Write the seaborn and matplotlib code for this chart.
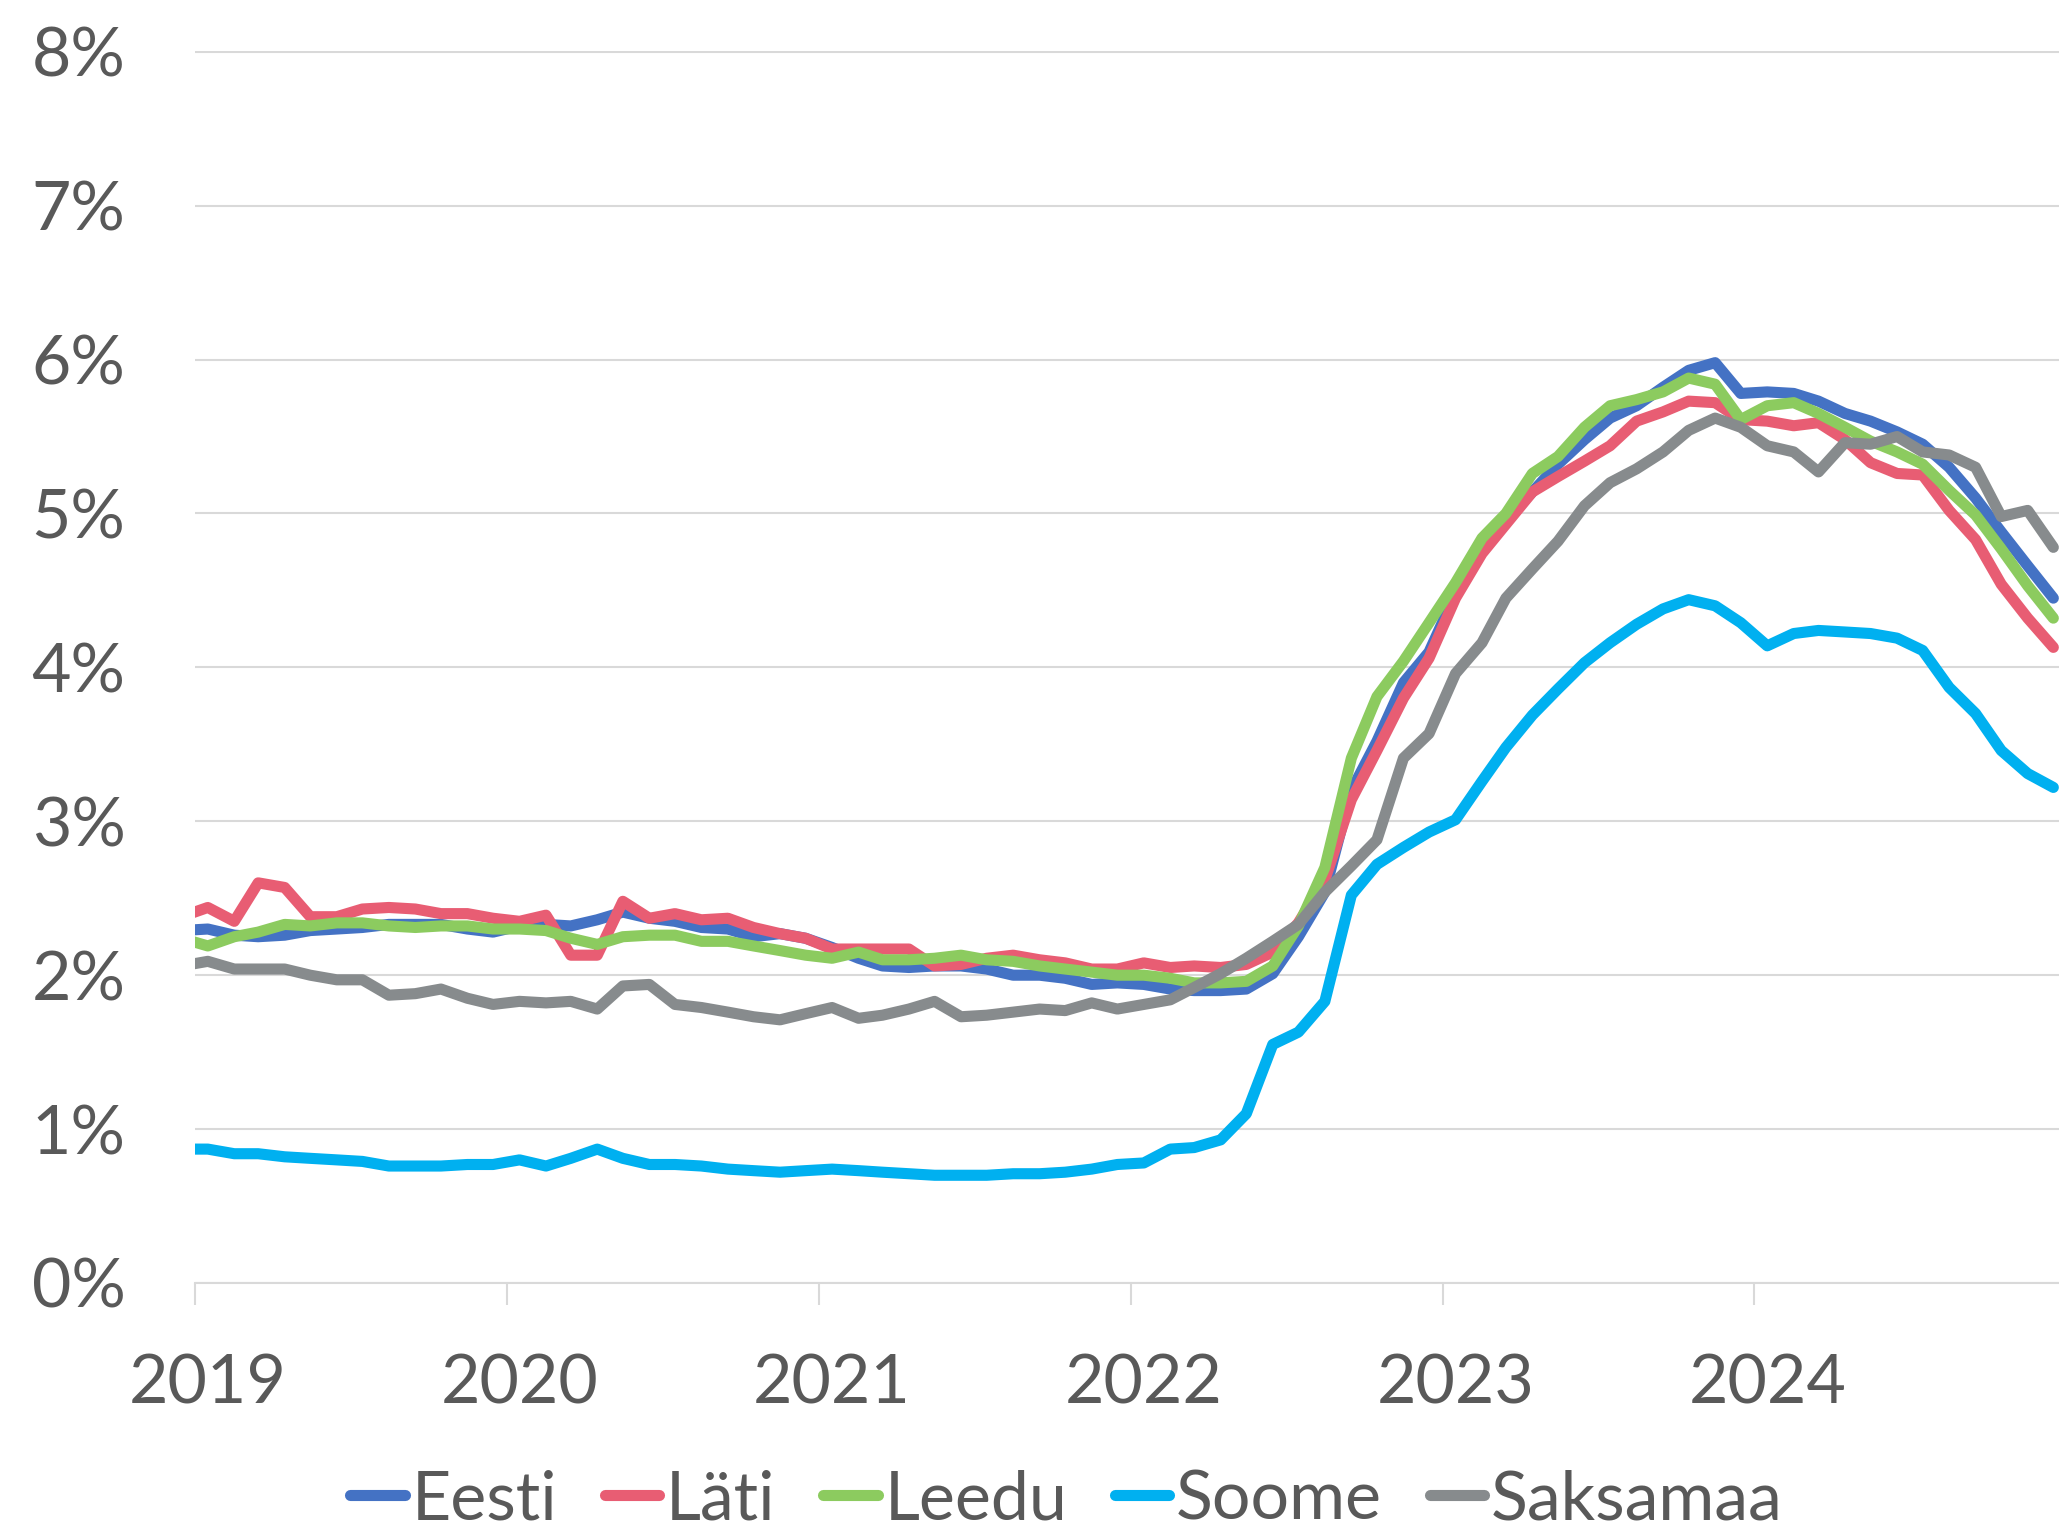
import matplotlib
matplotlib.use("Agg")
import matplotlib.pyplot as plt
import matplotlib.dates as mdates
from matplotlib.ticker import FuncFormatter, NullFormatter, FixedLocator
import numpy as np
import pandas as pd
import seaborn as sns

# monthly values, Dec 2018 .. Dec 2024 (Dec 2018 sits left of the axis and is clipped)
months = pd.date_range("2018-12-01", "2024-12-01", freq="MS") + pd.Timedelta(days=15)

eesti = [2.29, 2.30, 2.26, 2.25, 2.26, 2.29, 2.30, 2.31, 2.33, 2.33, 2.33, 2.30, 2.28,
         2.32, 2.33, 2.32, 2.36, 2.41, 2.37, 2.35, 2.31, 2.30, 2.25, 2.27, 2.24,
         2.18, 2.11, 2.06, 2.05, 2.06, 2.06, 2.04, 2.00, 2.00, 1.98, 1.94, 1.95,
         1.94, 1.91, 1.90, 1.90, 1.91, 2.01, 2.25, 2.54, 3.20, 3.52, 3.90, 4.10,
         4.48, 4.77, 4.96, 5.14, 5.32, 5.48, 5.62, 5.70, 5.82, 5.93, 5.98, 5.78,
         5.79, 5.78, 5.73, 5.65, 5.60, 5.53, 5.45, 5.30, 5.10, 4.88, 4.66, 4.45]
lati = [2.38, 2.44, 2.35, 2.60, 2.57, 2.38, 2.38, 2.43, 2.44, 2.43, 2.40, 2.40, 2.37,
        2.35, 2.39, 2.13, 2.13, 2.48, 2.37, 2.40, 2.36, 2.37, 2.31, 2.27, 2.24,
        2.17, 2.17, 2.17, 2.17, 2.06, 2.07, 2.11, 2.13, 2.10, 2.08, 2.04, 2.04,
        2.08, 2.05, 2.06, 2.05, 2.07, 2.15, 2.34, 2.62, 3.14, 3.46, 3.80, 4.06,
        4.45, 4.74, 4.93, 5.14, 5.24, 5.34, 5.44, 5.60, 5.66, 5.73, 5.72, 5.61,
        5.60, 5.57, 5.59, 5.48, 5.33, 5.26, 5.25, 5.02, 4.83, 4.54, 4.32, 4.13]
leedu = [2.24, 2.19, 2.25, 2.28, 2.33, 2.32, 2.34, 2.34, 2.32, 2.31, 2.32, 2.32, 2.30,
         2.30, 2.29, 2.24, 2.20, 2.25, 2.26, 2.26, 2.22, 2.22, 2.19, 2.16, 2.13,
         2.11, 2.15, 2.10, 2.10, 2.11, 2.13, 2.10, 2.09, 2.06, 2.04, 2.02, 2.00,
         2.00, 1.98, 1.95, 1.95, 1.96, 2.06, 2.32, 2.70, 3.41, 3.81, 4.04, 4.29,
         4.55, 4.84, 5.00, 5.26, 5.37, 5.56, 5.70, 5.74, 5.79, 5.88, 5.84, 5.61,
         5.70, 5.72, 5.65, 5.56, 5.47, 5.40, 5.32, 5.15, 4.99, 4.77, 4.53, 4.32]
soome = [0.87, 0.87, 0.84, 0.84, 0.82, 0.81, 0.80, 0.79, 0.76, 0.76, 0.76, 0.77, 0.77,
         0.80, 0.76, 0.81, 0.87, 0.81, 0.77, 0.77, 0.76, 0.74, 0.73, 0.72, 0.73,
         0.74, 0.73, 0.72, 0.71, 0.70, 0.70, 0.70, 0.71, 0.71, 0.72, 0.74, 0.77,
         0.78, 0.87, 0.88, 0.93, 1.10, 1.55, 1.63, 1.83, 2.52, 2.72, 2.83, 2.93,
         3.01, 3.26, 3.48, 3.69, 3.86, 4.03, 4.16, 4.28, 4.38, 4.44, 4.40, 4.29,
         4.14, 4.22, 4.24, 4.23, 4.22, 4.19, 4.11, 3.87, 3.70, 3.46, 3.31, 3.22]
saksamaa = [2.06, 2.09, 2.04, 2.04, 2.04, 2.00, 1.97, 1.97, 1.87, 1.88, 1.91, 1.85, 1.81,
            1.83, 1.82, 1.83, 1.78, 1.93, 1.94, 1.81, 1.79, 1.76, 1.73, 1.71, 1.75,
            1.79, 1.72, 1.74, 1.78, 1.83, 1.73, 1.74, 1.76, 1.78, 1.77, 1.82, 1.78,
            1.81, 1.84, 1.92, 2.01, 2.11, 2.22, 2.33, 2.54, 2.71, 2.88, 3.41, 3.57,
            3.96, 4.16, 4.45, 4.64, 4.82, 5.05, 5.20, 5.29, 5.40, 5.54, 5.62, 5.56,
            5.44, 5.40, 5.27, 5.46, 5.45, 5.50, 5.40, 5.38, 5.30, 4.98, 5.02, 4.78]

countries = ["Eesti", "Läti", "Leedu", "Soome", "Saksamaa"]
colors = ["#4472C4", "#E85D73", "#8CCB5F", "#00B0F0", "#878B8D"]
years = [2019, 2020, 2021, 2022, 2023, 2024]
y_ticks = [0, 1, 2, 3, 4, 5, 6, 7, 8]

df = pd.DataFrame({"kuu": months, "Eesti": eesti, "Läti": lati, "Leedu": leedu,
                   "Soome": soome, "Saksamaa": saksamaa})
long_df = df.melt(id_vars="kuu", var_name="riik", value_name="maar")

sns.set_theme(style="white")
plt.rcParams["font.family"] = ["Lato", "DejaVu Sans"]
text_color = "#595959"
grid_color = "#D9D9D9"
lw = 8.0

W, H = 2059, 1537
fig = plt.figure(figsize=(W / 100, H / 100), dpi=100)
# plot area: 2019-01-01 at x=195 px, 8% at y=51 px, 0% at y=1283 px; runs past the right edge
ax = fig.add_axes([195 / W, 1 - 1283 / H, 1872 / W, (1283 - 51) / H])

sns.lineplot(data=long_df, x="kuu", y="maar", hue="riik", hue_order=countries,
             palette=dict(zip(countries, colors)), linewidth=lw, ax=ax)
for line in ax.get_lines():
    line.set_linewidth(lw)
    line.set_solid_capstyle("round")
    line.set_solid_joinstyle("round")

handles, labels = ax.get_legend_handles_labels()
ax.get_legend().remove()

ax.set_xlim(pd.Timestamp("2019-01-01"), pd.Timestamp("2025-01-01"))
ax.set_ylim(0, 8.005)

# year ticks at Jan 1, labels centred on the January slot
ax.xaxis.set_major_locator(FixedLocator([mdates.date2num(pd.Timestamp(f"{y}-01-01")) for y in years]))
ax.xaxis.set_major_formatter(NullFormatter())
ax.xaxis.set_minor_locator(FixedLocator([mdates.date2num(pd.Timestamp(f"{y}-01-16")) for y in years]))
ax.set_xticklabels([str(y) for y in years], minor=True)
ax.tick_params(axis="x", which="major", direction="out", length=16, width=1.5,
               color=grid_color, bottom=True)
ax.tick_params(axis="x", which="minor", length=0, pad=51, labelsize=49, labelcolor=text_color)

ax.yaxis.set_major_locator(FixedLocator(y_ticks))
ax.yaxis.set_major_formatter(FuncFormatter(lambda v, _: f"{v:.0f}%"))
ax.tick_params(axis="y", length=0, pad=50, labelsize=49, labelcolor=text_color)

ax.grid(axis="y", color=grid_color, linewidth=1.5)
ax.grid(axis="x", visible=False)
ax.set_axisbelow(True)
for side in ["top", "right", "left"]:
    ax.spines[side].set_visible(False)
ax.spines["bottom"].set_color(grid_color)
ax.spines["bottom"].set_linewidth(1.5)
ax.set_xlabel("")
ax.set_ylabel("")

leg = fig.legend(handles, labels, loc="center", bbox_to_anchor=(0.518, 0.024), ncol=5,
                 frameon=False, fontsize=49, handlelength=0.8, handletextpad=0.1,
                 columnspacing=0.7, labelcolor=text_color, borderaxespad=0)
for h in leg.legend_handles:
    h.set_linewidth(lw)
    h.set_solid_capstyle("round")

fig.savefig("out.png", dpi=100)
